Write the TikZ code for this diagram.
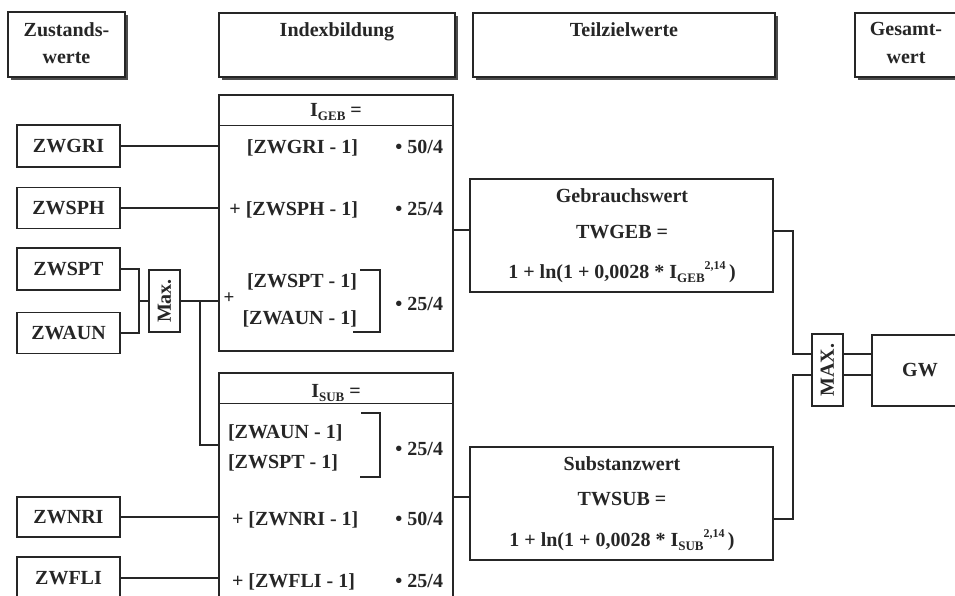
\documentclass[tikz,border=0pt]{standalone}
\usepackage{fontspec}
\setmainfont{Liberation Serif}
\usetikzlibrary{shadows}
\newcommand{\mysub}[1]{\raisebox{-4pt}{\fontsize{13}{13}\selectfont #1}}
\newcommand{\mysup}[1]{\raisebox{9pt}{\fontsize{12}{12}\selectfont #1}}
\tikzset{
  every node/.style={font=\fontsize{20}{24}\selectfont\bfseries, text=black!85},
  box/.style={draw=black!85, line width=1.6pt, fill=white, inner sep=0pt, outer sep=0pt},
  hdr/.style={box, drop shadow={shadow xshift=3pt, shadow yshift=-3pt, fill=black!70, opacity=1}},
  txt/.style={inner sep=0pt, outer sep=0pt},
  conn/.style={draw=black!85, line width=1.6pt},
}
\begin{document}
\begin{tikzpicture}[x=1pt,y=-1pt]
\useasboundingbox (0,0) rectangle (955,596);
\clip (0,0) rectangle (955,596);

% header boxes
\node[hdr, minimum width=117pt, minimum height=65pt] (hz) at (66.5,44.5) {};
\node[hdr, minimum width=236pt, minimum height=64pt] (hi) at (337,45) {};
\node[hdr, minimum width=302pt, minimum height=64pt] (ht) at (624,45) {};
\node[hdr, minimum width=150pt, minimum height=64pt] (hg) at (930,45) {};
\node[txt, anchor=base] (hz1) at (66.5,37) {Zustands-};
\node[txt, anchor=base] (hz2) at (66.5,64) {werte};
\node[txt, anchor=base] (hi1) at (337,37) {Indexbildung};
\node[txt, anchor=base] (ht1) at (624,37) {Teilzielwerte};
\node[txt, anchor=base] (hg1) at (906,36) {Gesamt-};
\node[txt, anchor=base] (hg2) at (906,64) {wert};

% left boxes
\node[box, minimum width=103pt, minimum height=42pt] (zwgri) at (68.5,146) {ZWGRI};
\node[box, minimum width=103pt, minimum height=41pt] (zwsph) at (68.5,208) {ZWSPH};
\node[box, minimum width=103pt, minimum height=42pt] (zwspt) at (68.5,269) {ZWSPT};
\node[box, minimum width=103pt, minimum height=41pt] (zwaun) at (68.5,333) {ZWAUN};
\node[box, minimum width=103pt, minimum height=40pt] (zwnri) at (68.5,517) {ZWNRI};
\node[box, minimum width=103pt, minimum height=42pt] (zwfli) at (68.5,578) {ZWFLI};

% max box
\node[box, minimum width=31pt, minimum height=62pt] (maxa) at (164.5,301) {\rotatebox{90}{Max.}};

% index boxes
\node[box, minimum width=234pt, minimum height=256pt] (igeb) at (336,223) {};
\draw[draw=black!85, line width=0.8pt] (igeb.west |- 0,125) -- (igeb.east |- 0,125);
\node[box, minimum width=234pt, minimum height=247pt] (isub) at (336,496.5) {};
\draw[draw=black!85, line width=0.8pt] (isub.west |- 0,403) -- (isub.east |- 0,403);

% IGEB contents
\node[txt, anchor=base] (ig0) at (336,117) {I\mysub{GEB} =};
\node[txt, anchor=base east] (ig1) at (358,154) {[ZWGRI - 1]};
\node[txt, anchor=base east] (ig1b) at (443,154) {• 50/4};
\node[txt, anchor=base east] (ig2) at (358,215) {+ [ZWSPH - 1]};
\node[txt, anchor=base east] (ig2b) at (443,215) {• 25/4};
\node[txt, anchor=base east] (ig3) at (357,287) {[ZWSPT - 1]};
\node[txt, anchor=base east] (ig4) at (357,324) {[ZWAUN - 1]};
\node[txt, font=\fontsize{19}{19}\selectfont\bfseries] (igp) at (229,298) {+};
\node[txt, anchor=base east] (ig3b) at (443,310) {• 25/4};
\draw[conn] (360,270) -- (380,270) -- (380,332) -- (353,332);

% ISUB contents
\node[txt, anchor=base] (is0) at (336,397) {I\mysub{SUB} =};
\node[txt, anchor=base west] (is1) at (228,438) {[ZWAUN - 1]};
\node[txt, anchor=base west] (is2) at (228,468) {[ZWSPT - 1]};
\node[txt, anchor=base east] (is2b) at (443,455) {• 25/4};
\draw[conn] (361,413) -- (380,413) -- (380,477) -- (360,477);
\node[txt, anchor=base west] (is3) at (232,525) {+ [ZWNRI - 1]};
\node[txt, anchor=base east] (is3b) at (443,525) {• 50/4};
\node[txt, anchor=base west] (is4) at (232,587) {+ [ZWFLI - 1]};
\node[txt, anchor=base east] (is4b) at (443,587) {• 25/4};

% Teilzielwerte boxes
\node[box, minimum width=303pt, minimum height=113pt] (tgeb) at (621.5,235.5) {};
\node[txt, anchor=base] (tg1) at (622,202) {Gebrauchswert};
\node[txt, anchor=base] (tg2) at (622,238) {TWGEB =};
\node[txt, anchor=base] (tg3) at (622,278) {1 + ln(1 + 0,0028 * I\mysub{GEB}\mysup{2,14}\,)};
\node[box, minimum width=303pt, minimum height=113pt] (tsub) at (621.5,503.5) {};
\node[txt, anchor=base] (ts1) at (622,470) {Substanzwert};
\node[txt, anchor=base] (ts2) at (622,505) {TWSUB =};
\node[txt, anchor=base] (ts3) at (622,546) {1 + ln(1 + 0,0028 * I\mysub{SUB}\mysup{2,14}\,)};

% MAX and GW
\node[box, minimum width=31pt, minimum height=72pt] (maxb) at (827.5,370) {\rotatebox{90}{MAX.}};
\node[box, minimum width=128pt, minimum height=71pt] (gwb) at (936,370.5) {};
\node[txt] (gwt) at (920,370) {GW};

% coordinates
\coordinate (j1) at (139,301);
\coordinate (j2) at (200,301);
\coordinate (j3) at (219,445);
\coordinate (a1) at (470,230);
\coordinate (a2) at (470,497);
\coordinate (g1) at (793,231);
\coordinate (g2) at (793,519);
\coordinate (m1) at (812,354);
\coordinate (m2) at (812,375);
\coordinate (w1) at (872,354);
\coordinate (w2) at (872,375);

% connectors
\draw[conn] (zwgri.east) -- (zwgri.east -| igeb.west);
\draw[conn] (zwsph.east) -- (zwsph.east -| igeb.west);
\draw[conn] (zwspt.east) -| (j1) |- (zwaun.east);
\draw[conn] (j1) -- (maxa.west);
\draw[conn] (maxa.east) -- (maxa.east -| igeb.west);
\draw[conn] (j2) |- (j3 -| isub.west);
\draw[conn] (zwnri.east) -- (zwnri.east -| isub.west);
\draw[conn] (zwfli.east) -- (zwfli.east -| isub.west);
\draw[conn] (a1 -| igeb.east) -- (a1 -| tgeb.west);
\draw[conn] (a2 -| isub.east) -- (a2 -| tsub.west);
\draw[conn] (g1 -| tgeb.east) -| (g1 |- m1) -- (m1 -| maxb.west);
\draw[conn] (g2 -| tsub.east) -| (g2 |- m2) -- (m2 -| maxb.west);
\draw[conn] (m1 -| maxb.east) -- (w1 -| gwb.west);
\draw[conn] (m2 -| maxb.east) -- (w2 -| gwb.west);
\end{tikzpicture}
\end{document}
